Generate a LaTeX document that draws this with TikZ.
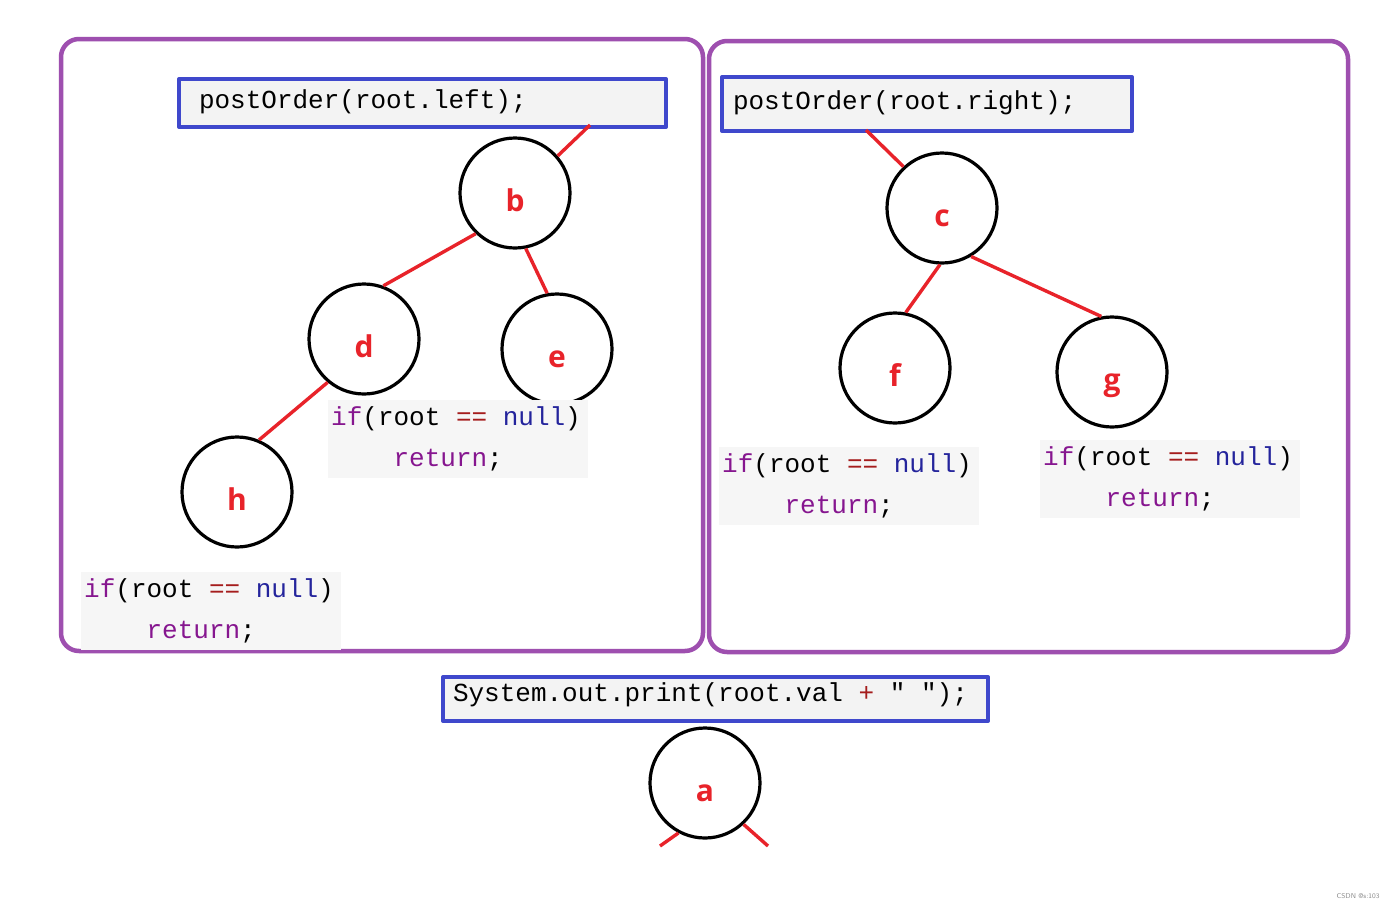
\documentclass[tikz,border=0pt]{standalone}
\usepackage{fontspec}
\usetikzlibrary{positioning}
\newfontfamily\codefont{Liberation Mono}
\newfontfamily\lettfont{Open Sans}
\definecolor{trvPurple}{HTML}{9E4FAF}
\definecolor{trvBlue}{HTML}{3F48CC}
\definecolor{trvCallBg}{HTML}{F3F3F3}
\definecolor{trvCodeBg}{HTML}{F6F6F6}
\definecolor{trvRed}{HTML}{E8232A}
\definecolor{trvKw}{HTML}{86168F}
\definecolor{trvOp}{HTML}{A51D1D}
\definecolor{trvNull}{HTML}{24249C}
\newcommand{\csp}{\hphantom{x}}
\newcommand{\nullret}{{\color{trvKw}if}(root\csp{\color{trvOp}==}\csp{\color{trvNull}null})\\\hphantom{xxxx}{\color{trvKw}return};}

\begin{document}
\begin{tikzpicture}[x=1pt,y=-1pt,line cap=round,line join=round]
\path[fill=white] (0,0) rectangle (1400,908);
\useasboundingbox (0,0) rectangle (1400,908);
\tikzset{frame/.style={draw=trvPurple,line width=4.5pt,rounded corners=18pt},call/.style={draw=trvBlue,fill=trvCallBg,line width=4pt,inner ysep=0pt,align=left,font=\codefont\fontsize{26}{30}\selectfont},vtx/.style={circle,draw=black,line width=3.2pt,minimum size=110pt,inner sep=0pt,text=trvRed,text height=36pt,text depth=0pt,font=\lettfont\bfseries\fontsize{30}{30}\selectfont},edge/.style={draw=trvRed,line width=3.4pt,line cap=butt},codeblk/.style={fill=trvCodeBg,anchor=north west,text width=254pt,minimum height=78pt,inner xsep=3pt,inner ysep=0pt,align=left,font=\codefont\fontsize{26}{41}\selectfont}}
\draw[frame] (61,39) rectangle (703,651);
\draw[frame] (709,41) rectangle (1348,652);
\node[call,anchor=north west,minimum width=487pt,minimum height=48pt,inner xsep=20pt,text width=447pt,text depth=8pt] (lcall) at (177,77) {postOrder(root.left);};
\node[call,anchor=north west,minimum width=410pt,minimum height=54pt,inner xsep=11pt,text width=388pt,text depth=8pt] (rcall) at (720,75) {postOrder(root.right);};
\node[call,anchor=north west,minimum width=545pt,minimum height=44pt,inner xsep=10pt,text width=525pt,text depth=14pt] (pcall) at (441,675) {System.out.print(root.val\csp{\color{trvOp}+}\csp"\csp");};
\node[vtx] (b) at (515,193) {b};
\node[vtx] (d) at (364,339) {d};
\node[vtx] (e) at (557,349) {e};
\node[vtx] (h) at (237,492) {h};
\node[vtx] (c) at (942,208) {c};
\node[vtx] (f) at (895,368) {f};
\node[vtx] (g) at (1112,372) {g};
\node[vtx] (a) at (705,783) {a};
\coordinate (lstub) at (590,125); \coordinate (rstub) at (866,130);
\coordinate (aleft) at (660,846); \coordinate (aright) at (768,846);
\draw[edge] (lstub) -- (b.41);
\draw[edge] (b.226) -- (d.70); \draw[edge] (b.281) -- (e.100);
\draw[edge] (d.230) -- (h.67);
\draw[edge] (rstub) -- (c.133);
\draw[edge] (c.268) -- (f.79); \draw[edge] (c.301) -- (g.101);
\draw[edge] (a.242) -- (aleft); \draw[edge] (a.313) -- (aright);
\node[codeblk] (nde) at (328,400) {\nullret};
\node[codeblk] (ndh) at (81,572) {\nullret};
\node[codeblk] (ndf) at (719,447) {\nullret};
\node[codeblk] (ndg) at (1040,440) {\nullret};
\node[text=black!45,font=\fontsize{7}{8}\selectfont\sffamily] (mark) at (1358,896) {CSDN @s:103};
\end{tikzpicture}
\end{document}
